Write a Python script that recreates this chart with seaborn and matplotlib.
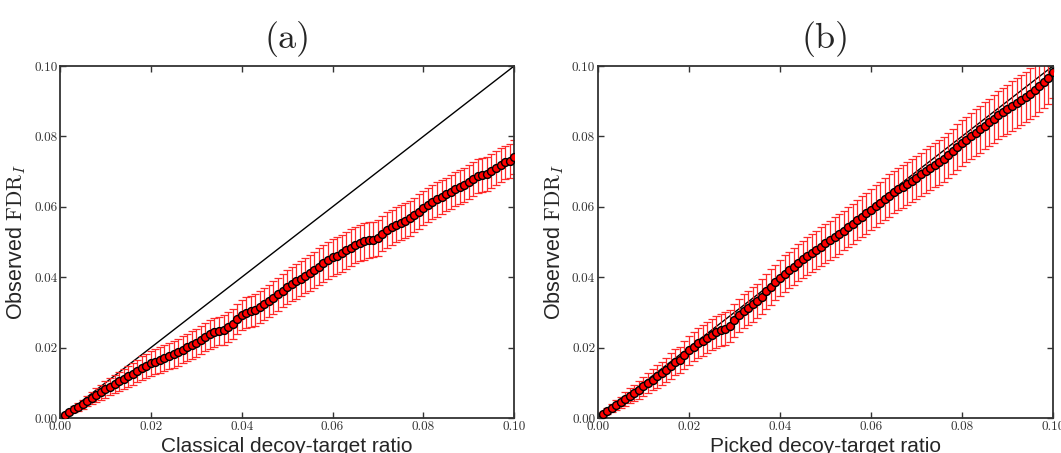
import numpy as np
import matplotlib
matplotlib.use("Agg")
import matplotlib.pyplot as plt
import seaborn as sns

# decoy-target ratio grid (x values)
ratio = [0.001, 0.002, 0.003, 0.004, 0.005, 0.006, 0.007, 0.008, 0.009, 0.010,
         0.011, 0.012, 0.013, 0.014, 0.015, 0.016, 0.017, 0.018, 0.019, 0.020,
         0.021, 0.022, 0.023, 0.024, 0.025, 0.026, 0.027, 0.028, 0.029, 0.030,
         0.031, 0.032, 0.033, 0.034, 0.035, 0.036, 0.037, 0.038, 0.039, 0.040,
         0.041, 0.042, 0.043, 0.044, 0.045, 0.046, 0.047, 0.048, 0.049, 0.050,
         0.051, 0.052, 0.053, 0.054, 0.055, 0.056, 0.057, 0.058, 0.059, 0.060,
         0.061, 0.062, 0.063, 0.064, 0.065, 0.066, 0.067, 0.068, 0.069, 0.070,
         0.071, 0.072, 0.073, 0.074, 0.075, 0.076, 0.077, 0.078, 0.079, 0.080,
         0.081, 0.082, 0.083, 0.084, 0.085, 0.086, 0.087, 0.088, 0.089, 0.090,
         0.091, 0.092, 0.093, 0.094, 0.095, 0.096, 0.097, 0.098, 0.099, 0.100]

# (a) classical decoy-target: observed FDR and error
fdr_a = [0.0009, 0.0017, 0.0025, 0.0032, 0.0039, 0.0048, 0.0057, 0.0065, 0.0073, 0.0081,
         0.0089, 0.0097, 0.0104, 0.0111, 0.0118, 0.0126, 0.0134, 0.0142, 0.0148, 0.0155,
         0.0160, 0.0165, 0.0170, 0.0176, 0.0181, 0.0187, 0.0194, 0.0201, 0.0207, 0.0214,
         0.0221, 0.0229, 0.0238, 0.0244, 0.0247, 0.0250, 0.0258, 0.0268, 0.0281, 0.0293,
         0.0299, 0.0303, 0.0307, 0.0315, 0.0324, 0.0333, 0.0342, 0.0352, 0.0362, 0.0372,
         0.0380, 0.0388, 0.0396, 0.0404, 0.0413, 0.0421, 0.0430, 0.0439, 0.0448, 0.0456,
         0.0461, 0.0468, 0.0476, 0.0484, 0.0491, 0.0497, 0.0502, 0.0505, 0.0507, 0.0512,
         0.0524, 0.0533, 0.0542, 0.0549, 0.0555, 0.0561, 0.0567, 0.0576, 0.0586, 0.0596,
         0.0605, 0.0613, 0.0621, 0.0628, 0.0635, 0.0642, 0.0650, 0.0656, 0.0663, 0.0670,
         0.0680, 0.0687, 0.0690, 0.0694, 0.0701, 0.0710, 0.0719, 0.0726, 0.0731, 0.0741]
err_a = [0.0005, 0.0007, 0.0009, 0.0011, 0.0013, 0.0015, 0.0017, 0.0019, 0.0021, 0.0023,
         0.0025, 0.0026, 0.0028, 0.0029, 0.0030, 0.0031, 0.0032, 0.0033, 0.0034, 0.0035,
         0.0036, 0.0036, 0.0037, 0.0037, 0.0038, 0.0038, 0.0039, 0.0039, 0.0039, 0.0040,
         0.0040, 0.0040, 0.0041, 0.0041, 0.0041, 0.0042, 0.0042, 0.0043, 0.0043, 0.0043,
         0.0044, 0.0044, 0.0045, 0.0045, 0.0046, 0.0046, 0.0047, 0.0047, 0.0048, 0.0048,
         0.0049, 0.0049, 0.0050, 0.0050, 0.0051, 0.0051, 0.0052, 0.0052, 0.0053, 0.0053,
         0.0053, 0.0053, 0.0053, 0.0052, 0.0052, 0.0052, 0.0052, 0.0051, 0.0051, 0.0051,
         0.0051, 0.0051, 0.0050, 0.0050, 0.0050, 0.0050, 0.0050, 0.0049, 0.0049, 0.0049,
         0.0049, 0.0049, 0.0049, 0.0049, 0.0048, 0.0048, 0.0048, 0.0048, 0.0048, 0.0048,
         0.0048, 0.0048, 0.0048, 0.0048, 0.0048, 0.0048, 0.0048, 0.0048, 0.0048, 0.0048]

# (b) picked decoy-target: observed FDR and error
fdr_b = [0.0010, 0.0020, 0.0029, 0.0037, 0.0045, 0.0054, 0.0063, 0.0071, 0.0080, 0.0090,
         0.0100, 0.0109, 0.0118, 0.0127, 0.0136, 0.0148, 0.0158, 0.0165, 0.0178, 0.0192,
         0.0203, 0.0212, 0.0220, 0.0228, 0.0236, 0.0245, 0.0250, 0.0254, 0.0262, 0.0278,
         0.0292, 0.0303, 0.0313, 0.0323, 0.0333, 0.0345, 0.0360, 0.0372, 0.0385, 0.0398,
         0.0410, 0.0420, 0.0430, 0.0441, 0.0451, 0.0460, 0.0469, 0.0478, 0.0487, 0.0496,
         0.0505, 0.0514, 0.0523, 0.0532, 0.0542, 0.0552, 0.0562, 0.0572, 0.0582, 0.0592,
         0.0602, 0.0612, 0.0622, 0.0632, 0.0642, 0.0650, 0.0657, 0.0665, 0.0674, 0.0683,
         0.0692, 0.0701, 0.0710, 0.0718, 0.0726, 0.0735, 0.0746, 0.0758, 0.0770, 0.0781,
         0.0791, 0.0801, 0.0811, 0.0820, 0.0830, 0.0840, 0.0850, 0.0860, 0.0869, 0.0877,
         0.0886, 0.0895, 0.0904, 0.0912, 0.0921, 0.0931, 0.0942, 0.0955, 0.0967, 0.0982]
err_b = [0.0006, 0.0009, 0.0012, 0.0014, 0.0016, 0.0019, 0.0021, 0.0023, 0.0025, 0.0027,
         0.0029, 0.0030, 0.0032, 0.0033, 0.0035, 0.0036, 0.0037, 0.0038, 0.0040, 0.0041,
         0.0042, 0.0043, 0.0043, 0.0044, 0.0044, 0.0045, 0.0045, 0.0046, 0.0046, 0.0047,
         0.0047, 0.0048, 0.0048, 0.0049, 0.0049, 0.0050, 0.0050, 0.0051, 0.0051, 0.0052,
         0.0052, 0.0052, 0.0053, 0.0053, 0.0053, 0.0054, 0.0054, 0.0054, 0.0055, 0.0055,
         0.0055, 0.0056, 0.0056, 0.0056, 0.0057, 0.0057, 0.0057, 0.0058, 0.0058, 0.0058,
         0.0059, 0.0059, 0.0059, 0.0060, 0.0060, 0.0060, 0.0061, 0.0061, 0.0061, 0.0062,
         0.0062, 0.0062, 0.0063, 0.0063, 0.0063, 0.0064, 0.0064, 0.0064, 0.0065, 0.0065,
         0.0065, 0.0066, 0.0066, 0.0066, 0.0067, 0.0067, 0.0068, 0.0068, 0.0069, 0.0069,
         0.0070, 0.0070, 0.0071, 0.0071, 0.0072, 0.0072, 0.0073, 0.0073, 0.0074, 0.0074]

ticks = [0.00, 0.02, 0.04, 0.06, 0.08, 0.10]
tick_labels = ["0.00", "0.02", "0.04", "0.06", "0.08", "0.10"]

sns.set_style("ticks")
plt.rcParams["font.family"] = ["Liberation Sans", "DejaVu Sans"]
plt.rcParams["mathtext.fontset"] = "cm"
plt.rcParams["axes.formatter.use_mathtext"] = True

fig = plt.figure(figsize=(10.61, 4.53), dpi=100)
ax_a = fig.add_axes([0.0566, 0.0773, 0.428, 0.777])
ax_b = fig.add_axes([0.5636, 0.0773, 0.4288, 0.777])

panels = [(ax_a, fdr_a, err_a, "(a)", "Classical decoy-target ratio"),
          (ax_b, fdr_b, err_b, "(b)", "Picked decoy-target ratio")]

for ax, fdr, err, title, xlabel in panels:
    # y = x reference
    ax.axline((0, 0), slope=1, color="black", linewidth=1.0, zorder=1.5)
    # error bars
    ax.errorbar(ratio, fdr, yerr=err, fmt="none", ecolor="#ff2a2a",
                elinewidth=0.9, capsize=2.8, capthick=0.9, zorder=2)
    # points
    sns.scatterplot(x=ratio, y=fdr, ax=ax, color="red", edgecolor="black",
                    linewidth=1.0, s=32, zorder=3, legend=False)

    ax.set_xlim(0, 0.1)
    ax.set_ylim(0, 0.1)
    ax.set_xticks(ticks)
    ax.set_yticks(ticks)
    ax.set_xticklabels(tick_labels, family="cmr10", fontsize=9.5, color="#333333")
    ax.set_yticklabels(tick_labels, family="cmr10", fontsize=9.5, color="#333333")
    ax.tick_params(direction="in", length=4, width=1, color="#333333",
                   top=True, right=True, pad=2)
    for sp in ax.spines.values():
        sp.set_color("#333333")
        sp.set_linewidth(1.3)

    ax.set_title(title, family="cmr10", fontsize=26, pad=13)
    ax.set_xlabel(xlabel, fontsize=15, labelpad=3)
    ax.set_ylabel(r"Observed $\mathrm{FDR}_I$", fontsize=15.5, labelpad=4)

fig.savefig("out.png", dpi=100)
